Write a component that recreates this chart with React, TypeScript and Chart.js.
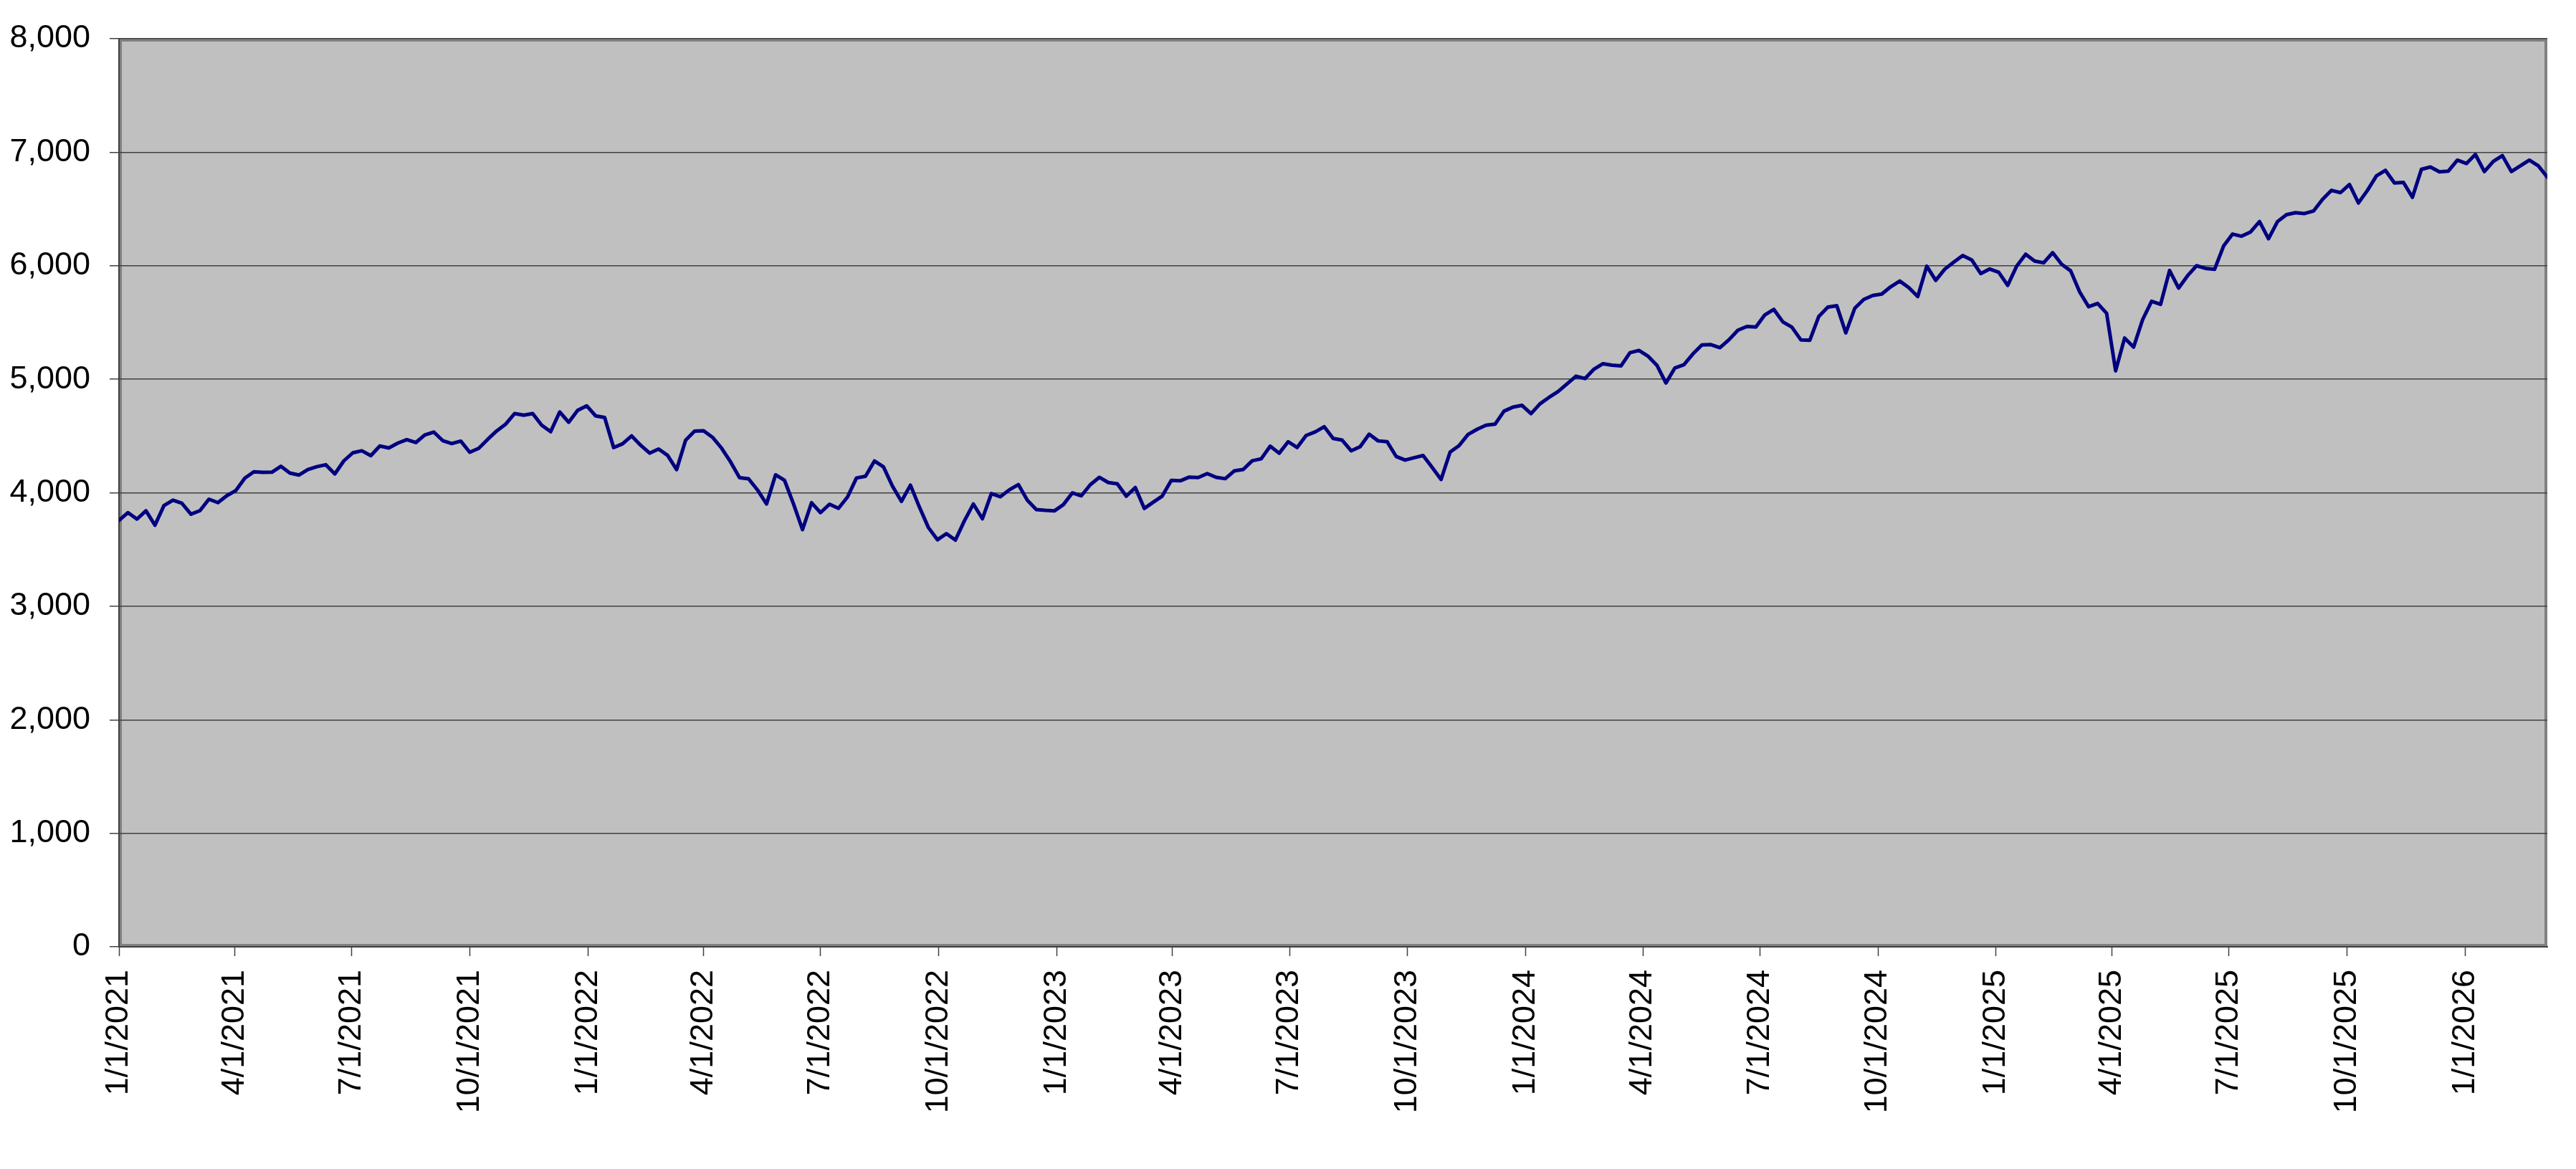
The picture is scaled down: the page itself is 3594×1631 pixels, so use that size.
import { useEffect, useRef } from "react";
import { Chart, registerables } from "chart.js";
Chart.register(...registerables);

// weekly closes, Fridays, starting 1/1/2021
const firstWeek = Date.UTC(2021, 0, 1);

const values2021 = [
  3756, 3825, 3768, 3841, 3714, 3887, 3935, 3907, 3811, 3842, 3943, 3913, 3975,
  4020, 4129, 4185, 4180, 4181, 4233, 4174, 4156, 4204, 4230, 4247, 4166, 4281,
  4352, 4370, 4327, 4412, 4395, 4437, 4468, 4442, 4509, 4535, 4459, 4433, 4455,
  4357, 4391, 4471, 4545, 4605, 4698, 4683, 4698, 4595, 4538, 4712, 4621, 4726,
  4766,
];
const values2022 = [
  4677, 4663, 4398, 4432, 4501, 4419, 4349, 4385, 4329, 4204, 4463, 4543, 4546,
  4488, 4393, 4272, 4132, 4123, 4024, 3901, 4158, 4109, 3901, 3675, 3912, 3825,
  3899, 3863, 3962, 4130, 4145, 4280, 4228, 4058, 3924, 4067, 3873, 3693, 3586,
  3640, 3583, 3753, 3901, 3771, 3993, 3965, 4026, 4072, 3934, 3852, 3845, 3840,
];
const values2023 = [
  3895, 3999, 3973, 4071, 4136, 4090, 4079, 3970, 4046, 3862, 3917, 3971, 4109,
  4105, 4138, 4134, 4169, 4136, 4124, 4192, 4205, 4282, 4299, 4410, 4348, 4450,
  4399, 4505, 4536, 4582, 4478, 4464, 4370, 4406, 4516, 4457, 4450, 4320, 4288,
  4309, 4328, 4224, 4117, 4358, 4415, 4514, 4559, 4595, 4604, 4719, 4755, 4770,
];
const values2024 = [
  4697, 4784, 4840, 4891, 4959, 5027, 5006, 5089, 5137, 5124, 5117, 5234, 5254,
  5204, 5123, 4967, 5100, 5128, 5223, 5303, 5305, 5278, 5347, 5432, 5465, 5460,
  5567, 5615, 5505, 5459, 5347, 5344, 5554, 5635, 5648, 5408, 5626, 5703, 5738,
  5751, 5815, 5865, 5808, 5729, 5996, 5871, 5969, 6032, 6090, 6051, 5931, 5971,
];
const values2025 = [
  5942, 5827, 5997, 6101, 6041, 6026, 6115, 6013, 5955, 5770, 5639, 5668, 5581,
  5074, 5363, 5283, 5525, 5687, 5660, 5958, 5803, 5912, 6000, 5977, 5968, 6173,
  6279, 6260, 6297, 6389, 6238, 6389, 6450, 6467, 6460, 6482, 6584, 6664, 6644,
  6716, 6553, 6664, 6792, 6840, 6729, 6734, 6603, 6849, 6870, 6827, 6834, 6930,
];
const values2026 = [6900, 6980, 6830, 6920, 6970, 6830, 6880, 6930, 6880, 6780];

const closes = [
  ...values2021,
  ...values2022,
  ...values2023,
  ...values2024,
  ...values2025,
  ...values2026,
];

const tickLabels = [
  "1/1/2021", "4/1/2021", "7/1/2021", "10/1/2021",
  "1/1/2022", "4/1/2022", "7/1/2022", "10/1/2022",
  "1/1/2023", "4/1/2023", "7/1/2023", "10/1/2023",
  "1/1/2024", "4/1/2024", "7/1/2024", "10/1/2024",
  "1/1/2025", "4/1/2025", "7/1/2025", "10/1/2025",
  "1/1/2026",
];

const yTicks = [0, 1000, 2000, 3000, 4000, 5000, 6000, 7000, 8000];

const dayOf = (label: string) => {
  const [m, d, y] = label.split("/").map(Number);
  return (Date.UTC(y, m - 1, d) - firstWeek) / 86400000;
};
const tickDays = tickLabels.map(dayOf);
const points = closes.map((v, i) => ({ x: i * 7, y: v }));
const lastDay = (closes.length - 1) * 7;

const FONT = "'Liberation Sans', Arial, sans-serif";

const plotBg = {
  id: "plotBg",
  beforeDraw: (chart: any) => {
    const { ctx, chartArea: a } = chart;
    ctx.save();
    ctx.fillStyle = "#c0c0c0";
    ctx.fillRect(a.left, a.top, a.right - a.left, a.bottom - a.top);
    ctx.strokeStyle = "#808080";
    ctx.lineWidth = 4;
    ctx.strokeRect(a.left + 2, a.top + 2, a.right - a.left - 4, a.bottom - a.top - 4);
    ctx.restore();
  },
};

const App = () => {
  const canvasRef = useRef<HTMLCanvasElement>(null);
  const chartRef = useRef<Chart | null>(null);

  useEffect(() => {
    if (chartRef.current) {
      chartRef.current.destroy();
      chartRef.current = null;
    }

    chartRef.current = new Chart(canvasRef.current!, {
      type: "line",
      data: {
        datasets: [
          {
            data: points,
            borderColor: "#000080",
            borderWidth: 5,
            borderJoinStyle: "round",
            borderCapStyle: "round",
            pointRadius: 0,
            tension: 0,
            fill: false,
          },
        ],
      },
      options: {
        responsive: false,
        animation: false,
        layout: { padding: { top: 49, right: 40, left: 0, bottom: 0 } },
        plugins: {
          legend: { display: false },
          tooltip: { enabled: false },
        },
        scales: {
          x: {
            type: "linear",
            min: 0,
            max: lastDay,
            afterBuildTicks: (axis: any) => {
              axis.ticks = tickDays.map((v) => ({ value: v }));
            },
            afterFit: (axis: any) => {
              axis.height = 310;
            },
            grid: {
              drawOnChartArea: false,
              drawTicks: true,
              tickLength: 13,
              tickColor: "#404040",
              tickWidth: 1.5,
            },
            border: { display: true, color: "#404040", width: 2 },
            ticks: {
              autoSkip: false,
              minRotation: 90,
              maxRotation: 90,
              padding: 19,
              color: "#000",
              font: { family: FONT, size: 45 },
              callback: (_v: any, i: number) => tickLabels[i],
            },
          },
          y: {
            min: 0,
            max: 8000,
            afterBuildTicks: (axis: any) => {
              axis.ticks = yTicks.map((v) => ({ value: v }));
            },
            afterFit: (axis: any) => {
              axis.width = 166;
            },
            grid: {
              color: "#404040",
              lineWidth: 1.5,
              tickLength: 13,
              tickColor: "#404040",
              tickWidth: 1.5,
            },
            border: { display: true, color: "#404040", width: 2 },
            ticks: {
              padding: 27,
              color: "#000",
              font: { family: FONT, size: 45 },
              callback: (v: any) => Number(v).toLocaleString("en-US"),
            },
          },
        },
      },
      plugins: [plotBg],
    });

    return () => {
      if (chartRef.current) {
        chartRef.current.destroy();
        chartRef.current = null;
      }
    };
  }, []);

  return (
    <div style={{ position: "fixed", left: 0, top: 0, width: 3594, height: 1631, background: "#fff" }}>
      <canvas ref={canvasRef} width={3594} height={1631} style={{ display: "block" }} />
    </div>
  );
};

export default App;
